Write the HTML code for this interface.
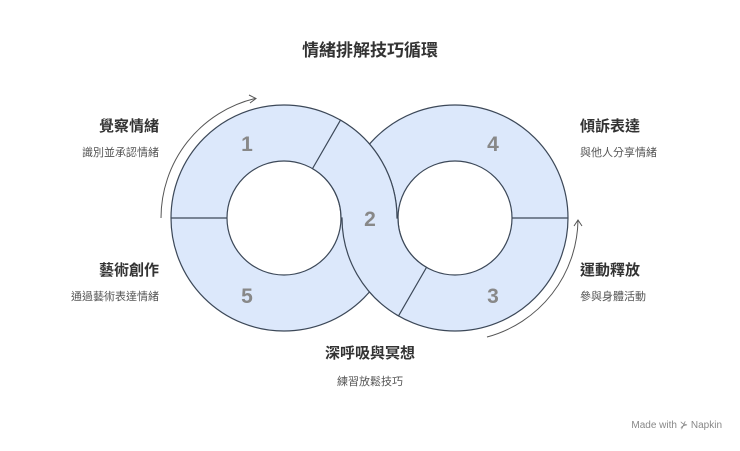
<!DOCTYPE html>
<html><head><meta charset="utf-8"><style>
body{margin:0;background:#fff;}
svg text{font-family:"Liberation Sans","Noto Sans CJK TC",sans-serif;}
</style></head><body>
<svg width="740" height="446" viewBox="0 0 740 446" xmlns="http://www.w3.org/2000/svg">
<rect width="740" height="446" fill="#fff"/>
<text x="370" y="56" text-anchor="middle" font-size="17" font-weight="bold" fill="#333">情緒排解技巧循環</text>
<g fill="#dce8fb" stroke="#3c4858" stroke-width="1.2" fill-rule="evenodd">
<path d="M342,218 a113,113 0 1,0 226,0 a113,113 0 1,0 -226,0 Z M398,218 a57,57 0 1,0 114,0 a57,57 0 1,0 -114,0 Z"/>
<path d="M171,218 a113,113 0 1,0 226,0 a113,113 0 1,0 -226,0 Z M227,218 a57,57 0 1,0 114,0 a57,57 0 1,0 -114,0 Z"/>
<line x1="171" y1="218" x2="227" y2="218"/>
<line x1="512" y1="218" x2="568" y2="218"/>
<path d="M340.5,120.1 A113,113 0 0,1 397,218 L398,218 A57,57 0 0,0 426.5,267.4 L398.5,315.9 A113,113 0 0,1 342,218 L341,218 A57,57 0 0,0 312.5,168.6 Z"/>
</g>
<g font-size="21" font-weight="bold" fill="#888" text-anchor="middle">
<text x="247" y="151">1</text>
<text x="370" y="226">2</text>
<text x="493" y="303">3</text>
<text x="493" y="151">4</text>
<text x="247" y="303">5</text>
</g>
<g fill="none" stroke="#555" stroke-width="1">
<path d="M161,218 A123,123 0 0,1 255,98.5"/>
<path d="M249,95 L256,98.5 L250,103"/>
<path d="M487,337 A123,123 0 0,0 578,220"/>
<path d="M574,226 L578,220 L582,226"/>
</g>
<g font-size="15" font-weight="bold" fill="#333">
<text x="159" y="131" text-anchor="end">覺察情緒</text>
<text x="159" y="275" text-anchor="end">藝術創作</text>
<text x="580" y="131">傾訴表達</text>
<text x="580" y="275">運動釋放</text>
<text x="370" y="358" text-anchor="middle">深呼吸與冥想</text>
</g>
<g font-size="11" fill="#555">
<text x="159" y="156" text-anchor="end">識別並承認情緒</text>
<text x="159" y="300" text-anchor="end">通過藝術表達情緒</text>
<text x="580" y="156">與他人分享情緒</text>
<text x="580" y="300">參與身體活動</text>
<text x="370" y="385" text-anchor="middle">練習放鬆技巧</text>
</g>
<text x="722" y="428" text-anchor="end" font-size="10" fill="#888">Made with ⊁ Napkin</text>
</svg>
</body></html>
